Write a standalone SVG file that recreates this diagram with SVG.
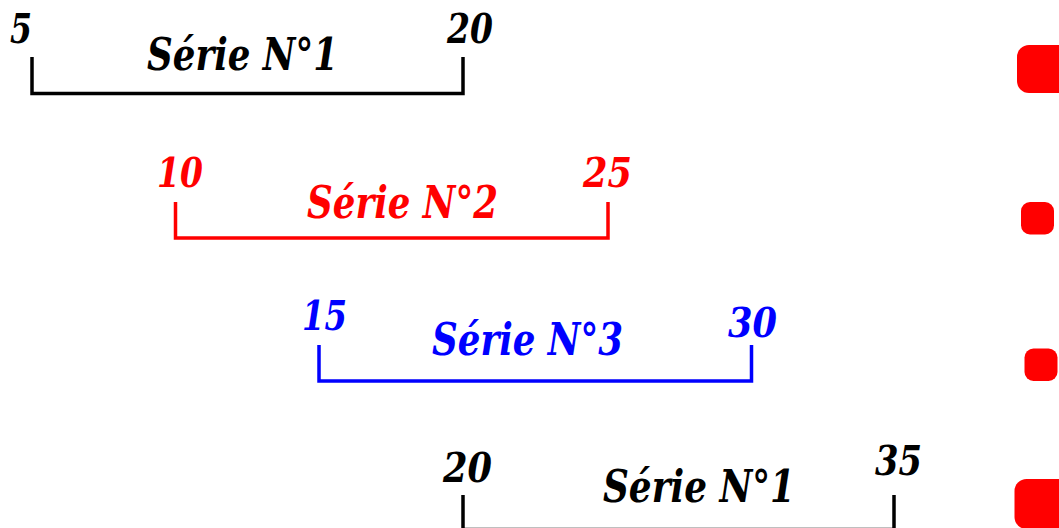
<svg xmlns="http://www.w3.org/2000/svg" width="1059" height="528" viewBox="0 0 1059 528">
<style>
text{font-family:"DejaVu Serif",serif;font-weight:bold;font-style:italic;text-anchor:middle}
.num{font-size:41px}
.ttl{font-size:44px}
.br{fill:none;stroke-width:3.5;stroke-linecap:butt;stroke-linejoin:miter}
.k{fill:#000}.r{fill:#ff0000}.b{fill:#0000ff}
.dot{fill:#ff0000}
</style>
<rect width="1059" height="528" fill="#fff"/>
<g id="connectors">
<path class="br" stroke="#000" d="M32,57 V93.5 H463 V57"/>
<path class="br" stroke="#ff0000" d="M175.5,202 V238 H608 V202"/>
<path class="br" stroke="#0000ff" d="M319,345 V381 H751.5 V345"/>
<path class="br" stroke="#000" d="M463,495 V529.4 H894 V495"/>
</g>
<g id="serie1">
<text class="num k" x="21" y="43" textLength="22" lengthAdjust="spacingAndGlyphs">5</text>
<text class="num k" x="470" y="43" textLength="46" lengthAdjust="spacingAndGlyphs">20</text>
<text class="ttl k" x="242.5" y="70" textLength="191" lengthAdjust="spacingAndGlyphs">Série N°1</text>
</g>
<g id="serie2">
<text class="num r" x="180" y="187" textLength="46" lengthAdjust="spacingAndGlyphs">10</text>
<text class="num r" x="607.5" y="187" textLength="49" lengthAdjust="spacingAndGlyphs">25</text>
<text class="ttl r" x="402.5" y="218" textLength="191" lengthAdjust="spacingAndGlyphs">Série N°2</text>
</g>
<g id="serie3">
<text class="num b" x="324.5" y="330" textLength="45" lengthAdjust="spacingAndGlyphs">15</text>
<text class="num b" x="752.5" y="337" textLength="49" lengthAdjust="spacingAndGlyphs">30</text>
<text class="ttl b" x="527.5" y="355" textLength="191" lengthAdjust="spacingAndGlyphs">Série N°3</text>
</g>
<g id="serie4">
<text class="num k" x="467.5" y="482" textLength="49" lengthAdjust="spacingAndGlyphs">20</text>
<text class="num k" x="898.5" y="475" textLength="47" lengthAdjust="spacingAndGlyphs">35</text>
<text class="ttl k" x="699" y="502" textLength="192" lengthAdjust="spacingAndGlyphs">Série N°1</text>
</g>
<g id="dots">
<rect class="dot" x="1017" y="45" width="60" height="48" rx="12"/>
<rect class="dot" x="1021" y="202" width="33" height="32.5" rx="9"/>
<rect class="dot" x="1024.5" y="348.5" width="33" height="32.5" rx="9"/>
<rect class="dot" x="1014.5" y="479" width="60" height="50" rx="12"/>
</g>
</svg>
